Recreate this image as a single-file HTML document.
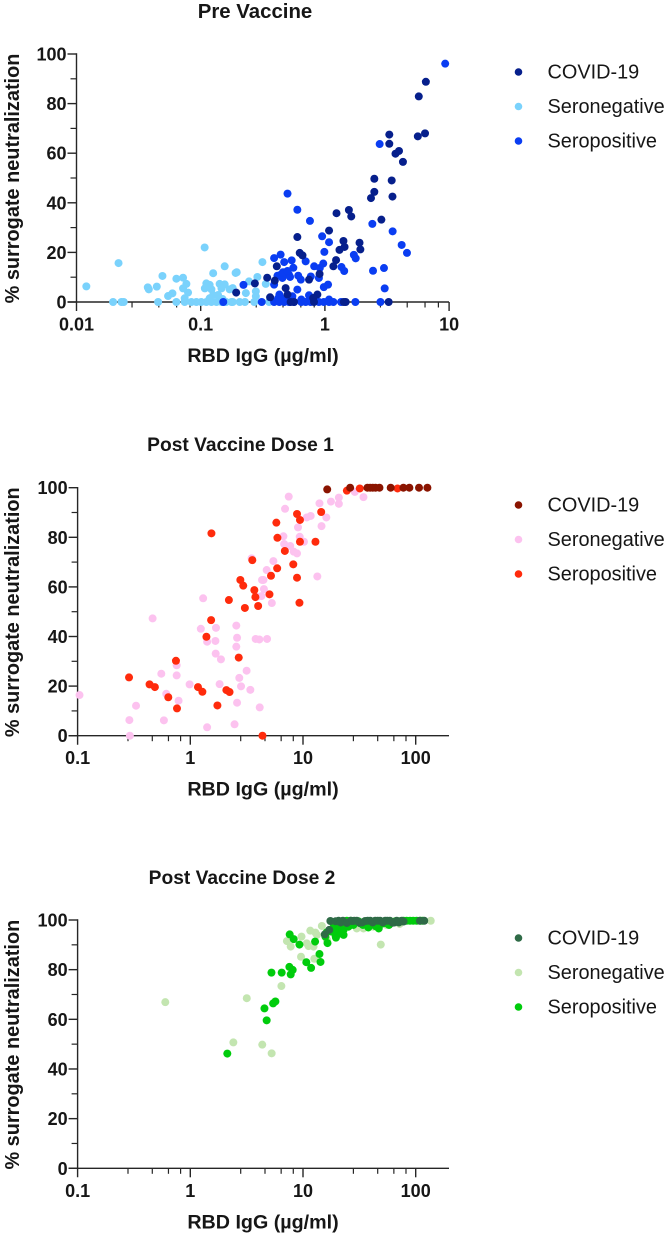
<!DOCTYPE html>
<html lang="en">
<head>
<meta charset="utf-8">
<title>Surrogate neutralization vs RBD IgG</title>
<style>
html,body{margin:0;padding:0;background:#fff;width:666px;height:1239px;overflow:hidden}
svg{display:block;filter:blur(0.35px)}
text{font-family:"Liberation Sans",sans-serif;fill:#161616}
.b{font-weight:bold}
</style>
</head>
<body>
<svg id="fig" xmlns="http://www.w3.org/2000/svg" width="666" height="1239" viewBox="0 0 666 1239"></svg>
<script>
// shared axis values
const yTicks = [0, 20, 40, 60, 80, 100];
const yMinorTicks = [10, 30, 50, 70, 90];
const minorMultipliers = [2.8, 4.6, 6.4, 8.2];
const preXTicks = [0.01, 0.1, 1, 10];
const postXTicks = [0.1, 1, 10, 100];
const legendLabels = ["COVID-19", "Seronegative", "Seropositive"];

// Pre Vaccine
const preCovidX = [6.5,5.7,6.4,5.6,3.3,3.3,3.7,3.95,4.25,2.5,3.45,2.5,2.35,3.5,2.85,1.24,1.56,1.63,1.08,0.6,1.41,1.9,1.44,1.31,1.93,0.627,0.66,1.23,1.17,0.41,0.343,0.273,0.395,0.745,0.906,0.483,0.193,0.362,0.5,0.87,0.805,0.564,0.53,0.817,1.47,1.42,3.26];
const preCovidY = [88.8,82.9,68,66.8,67.5,63.8,59.8,60.9,56.5,49.7,49,44.4,41.9,42.5,33.2,35.8,37.1,34.5,28.8,26.2,24.6,23.9,22.2,21,21.2,19.8,18.8,16.9,14.4,14.4,9.8,7.5,8.6,9,11.3,5.6,3.8,1.9,3,3,1.6,0,0,0,0,0,0];
const preNegX = [0.012,0.0218,0.1076,0.0492,0.0197,0.023,0.024,0.0375,0.0382,0.0443,0.0454,0.0546,0.0592,0.0637,0.0637,0.0721,0.0767,0.0721,0.0791,0.0743,0.0743,0.0841,0.0923,0.101,0.111,0.122,0.134,0.147,0.177,0.206,0.126,0.156,0.191,0.111,0.118,0.142,0.156,0.108,0.122,0.147,0.171,0.126,0.138,0.118,0.195,0.314,0.286,0.245,0.334,0.278,0.231,0.181,0.227,0.181,0.278,0.356,0.15,0.16,0.27];
const preNegY = [6.3,15.7,22,10.5,0,0,0,5.9,5.1,6.2,0,2.4,3.5,0,9.4,9.8,7.3,5.5,3.8,1.5,0,0,0,0,0,0,0,0,0,0,11.6,14.4,11.7,7.5,6.9,7.3,7.1,5.5,5.1,5.5,5.1,2.8,2.8,1.5,12,16.1,10.1,8.3,7.3,4.3,3.6,5.6,0,0,2.3,0,1.2,0,0];
const prePosX = [9.3,2.76,0.5,0.6,0.758,2.41,0.95,1.08,3.51,4.15,4.58,0.99,1.71,1.77,0.39,0.44,0.54,0.47,0.7,0.557,0.82,0.97,0.91,1.36,1.43,2.44,2.99,0.415,0.44,0.483,0.514,0.455,0.524,0.61,0.64,0.77,0.895,0.39,0.221,0.6,0.98,1.06,3.03,0.43,0.745,0.646,1.08,0.547,0.152,0.31,0.39,0.43,0.47,0.514,0.564,0.646,0.7,0.767,0.895,0.98,1.08,1.17,1.35,1.76,2.8,0.46,0.5,0.42,0.47,0.53];
const prePosY = [96.1,63.7,43.7,37.2,32.7,31.5,26.5,24.1,28.5,23,19.8,20.2,19,17.6,17.7,19.1,16.8,16.1,16.4,13.8,14.4,15.5,13.7,14.1,12.5,12.6,13.7,10.6,11,11.3,11,9.7,10.1,10.6,9,10.3,9.7,7,6.9,5,6,7,5.5,3,2.7,1,1,2.3,0,0,0,0,0,0,0,0,0,0,0,0,0,0,0,0,0,12,12.5,1.5,1.2,1.5];

// Post Vaccine Dose 1
const dose1CovidX = [16.4,26.2,37.3,39.4,41.6,44,47.7,60,77.8,87.9,107,127];
const dose1CovidY = [99.3,100,100,100,100,100,100,100,100,100,100,100];
const dose1NegX = [0.104,1.3,0.463,3.5,1.24,1.69,2.56,2.6,1.67,1.41,2.56,1.68,1.87,0.757,0.757,0.553,3.16,2.72,0.986,1.82,2.82,3.41,0.612,0.787,0.33,2.6,0.288,0.583,1.41,2.47,0.291,4.13,3.8,4.1,4.33,3.9,4.8,7.47,6.93,20.8,17.7,20.8,14,28.8,34.4,16.1,10.8,11.7,9.03,14.6,6.7,9.35,10.2,6.8,7.7,8.27,8.85,5.46,4.76,4.46,13.4,4.5,4.28,5.29];
const dose1NegY = [16.4,55.4,47.3,71.5,43.1,43.5,44.4,39.5,38.2,37.9,35.9,33.1,30.8,28.4,24.3,25,26.2,23.3,20.7,20.8,19.9,18.5,16.9,14.1,12.1,13.3,6.3,6.2,3.4,4.6,0,11.4,39,38.8,62.8,56,39,96.4,91.5,96,94.4,93.5,93.7,98.3,96.2,88,88,88.6,84,84.5,80.4,80.2,78.2,77.3,76.5,74.2,73.5,70.4,66.8,62.8,64.2,59.1,56.3,53.5];
const dose1PosX = [1.54,3.55,2.78,2.95,3.7,3.78,2.2,3.05,4,1.53,1.39,2.69,0.746,0.286,0.435,0.485,1.17,1.28,2.09,2.23,0.638,1.74,0.762,4.37,5.04,8.85,9.4,5.8,14.5,5.93,9.4,12.9,6.9,8.2,5.9,5.2,8.85,9.3,24.5,31.9,69];
const dose1PosY = [81.6,70.8,62.8,60.5,58.7,55.9,54.7,51.5,52.3,46.6,39.9,31.5,30.2,23.5,20.7,19.6,19.6,17.7,18.4,17.6,15.5,12.2,11,0,57,89.4,87,85.9,90.2,79.8,78.2,78.2,74.5,69.1,67.5,64.5,63.7,53.6,98.8,99.7,99.7];

// Post Vaccine Dose 2
const dose2CovidX = [15.6,17.1,17.5,20.7,22.6,26.6,28.5,31.7,35.6,39.5,43.7,48.3,53.6,62.5,67.9,75.2,109,119,19.5,21.6,24.5,27.5,30,33.5,37.5,41.5,46,51,56,59,65,71,78];
const dose2CovidY = [94.2,96,99.6,99.7,99.7,99.7,99.7,98.9,99.6,99.7,99.7,99.7,99.7,98.9,99.7,99.7,99.7,99.7,99.5,99,98.8,99.6,99.7,99,99.7,99,99.7,99,99.7,99.7,99,99,99.4];
const dose2NegX = [0.6,2.41,4.35,5.27,136,49,7.2,7.78,9.7,11.6,12.9,14.7,10.8,11.2,12.4,9.6,12.6,6.43,3.17,13.3,34.4,21,30,42,55,72,16.3];
const dose2NegY = [66.9,50.7,49.8,46.3,99.7,90.1,91.5,89.3,93.3,95.7,94.9,97.6,90.6,89.5,89.3,85.2,84.4,73.4,68.5,94,96.6,97.3,96.6,97.3,98,98.4,92];
const dose2PosX = [2.13,7.62,8.27,9.3,12.8,15.8,16.5,19.6,14,14.3,10.7,11.8,5.25,6.47,7.57,8.1,7.78,5.69,5.43,4.55,4.76,18,21.4,22.9,25.3,22.9,28,32,36.8,47,42,53.6,63.4,20,18.7,24.5,78,83,89,95,102,16.2,19,22,24,19.5,26.5,29,31,34,38,44,50,58,66,72,110,115];
const dose2PosY = [46.2,94.2,92.3,90.1,91.3,93.3,90.7,92.9,86.3,83.1,83,80.7,78.8,78.8,81.1,79.9,78.1,67.2,66.4,64.4,59.6,95.3,94.6,96,97.3,94,98,98.7,99.3,96.6,98.4,98.7,99,97.3,98.4,99.7,99.7,99.7,99.7,99.7,99.7,95,96,98,99,93.5,99.7,99.5,99.5,98,97,97.5,98.5,98,99.5,99.5,99.7,99.7];

const svgNS = "http://www.w3.org/2000/svg";
const fig = document.getElementById("fig");

function mk(tag, attrs, parent) {
  const el = document.createElementNS(svgNS, tag);
  for (const k in attrs) el.setAttribute(k, attrs[k]);
  parent.appendChild(el);
  return el;
}

function drawChart(c) {
  const g = mk("g", {}, fig);
  
  

  const xScale = v => c.x0 + (Math.log10(v) - Math.log10(c.xTicks[0])) * c.decade;
  const yScale = v => c.yBottom - v * (c.yBottom - c.yTop) / 100;
  const axisColor = "#262626";

  const title = mk("text", {x: c.titleX, y: c.titleY, "text-anchor": "middle", "font-size": c.titleSize, class: "b"}, g);
  title.textContent = c.title;
  
  

  const yTitle = mk("text", {transform: "translate(19," + ((c.yBottom + c.yTop) / 2 + 0.5) + ") rotate(-90)", "text-anchor": "middle", "font-size": 19.9, class: "b"}, g);
  yTitle.textContent = "% surrogate neutralization";
  
  

  const xTitle = mk("text", {x: 263, y: c.yBottom + 60, "text-anchor": "middle", "font-size": 19.7, class: "b"}, g);
  xTitle.textContent = "RBD IgG (µg/ml)";
  
  

  const yAxis = mk("line", {x1: c.x0, x2: c.x0, y1: c.yTop - 0.7, y2: c.yBottom + 9, stroke: axisColor, "stroke-width": 1.4}, g);
  
  
  const xAxis = mk("line", {x1: c.x0 - 9, x2: 449, y1: c.yBottom, y2: c.yBottom, stroke: axisColor, "stroke-width": 1.4}, g);
  
  

  yTicks.forEach(t => {
    const tick = mk("line", {x1: c.x0 - 9, x2: c.x0, y1: yScale(t), y2: yScale(t), stroke: axisColor, "stroke-width": 1.4}, g);
    
    
    const label = mk("text", {x: c.x0 - 10, y: yScale(t) + 6.5, "text-anchor": "end", "font-size": 18, class: "b"}, g);
    label.textContent = String(t);
    
    
  });
  yMinorTicks.forEach(t => {
    const tick = mk("line", {x1: c.x0 - 6, x2: c.x0, y1: yScale(t), y2: yScale(t), stroke: axisColor, "stroke-width": 1.2}, g);
    
    
  });
  c.xTicks.forEach(t => {
    const px = xScale(t);
    if (t !== c.xTicks[0]) {
      const tick = mk("line", {x1: px, x2: px, y1: c.yBottom, y2: c.yBottom + 9, stroke: axisColor, "stroke-width": 1.4}, g);
      
      
    }
    const label = mk("text", {x: px, y: c.yBottom + 28.5, "text-anchor": "middle", "font-size": 18, class: "b"}, g);
    label.textContent = String(t);
    
    
    minorMultipliers.forEach(m => {
      const mx = xScale(t * m);
      if (mx > 449) return;
      const minor = mk("line", {x1: mx, x2: mx, y1: c.yBottom, y2: c.yBottom + 5.5, stroke: axisColor, "stroke-width": 1.2}, g);
      
      
    });
  });

  // draw order: seronegative, seropositive, COVID-19 on top
  c.series.forEach(s => {
    const sg = mk("g", {fill: s.color}, g);
    
    
    s.xs.forEach((v, i) => {
      const dot = mk("circle", {cx: xScale(v), cy: yScale(s.ys[i]), r: 4}, sg);
      
      
    });
  });

  legendLabels.forEach((label, i) => {
    const s = c.series.find(q => q.label === label);
    const ly = c.legendY + i * 34.5;
    const entry = mk("g", {}, g);
    
    
    mk("circle", {cx: 518.5, cy: ly, r: 3.8, fill: s.color}, entry);
    const t = mk("text", {x: 547.5, y: ly + 6.3, "font-size": 19.9}, entry);
    t.textContent = label;
  });
}

drawChart({
  id: "pre-vaccine", title: "Pre Vaccine", titleX: 255, titleY: 18, titleSize: 20.4,
  x0: 76.5, decade: 124.2, yTop: 54, yBottom: 302, xTicks: preXTicks, legendY: 72,
  series: [
    {key: "seronegative", label: "Seronegative", color: "#7ad2fc", xs: preNegX, ys: preNegY},
    {key: "seropositive", label: "Seropositive", color: "#0a3df2", xs: prePosX, ys: prePosY},
    {key: "covid-19", label: "COVID-19", color: "#061f8c", xs: preCovidX, ys: preCovidY}
  ]
});
drawChart({
  id: "post-vaccine-dose-1", title: "Post Vaccine Dose 1", titleX: 240.5, titleY: 451, titleSize: 19.2,
  x0: 77.6, decade: 112.7, yTop: 487.7, yBottom: 735.7, xTicks: postXTicks, legendY: 505,
  series: [
    {key: "seronegative", label: "Seronegative", color: "#fcc2ef", xs: dose1NegX, ys: dose1NegY},
    {key: "seropositive", label: "Seropositive", color: "#ff2b0c", xs: dose1PosX, ys: dose1PosY},
    {key: "covid-19", label: "COVID-19", color: "#8a1400", xs: dose1CovidX, ys: dose1CovidY}
  ]
});
drawChart({
  id: "post-vaccine-dose-2", title: "Post Vaccine Dose 2", titleX: 242, titleY: 884, titleSize: 19.2,
  x0: 77.6, decade: 112.7, yTop: 920, yBottom: 1168.3, xTicks: postXTicks, legendY: 938,
  series: [
    {key: "seronegative", label: "Seronegative", color: "#c3e5b0", xs: dose2NegX, ys: dose2NegY},
    {key: "seropositive", label: "Seropositive", color: "#00cc0c", xs: dose2PosX, ys: dose2PosY},
    {key: "covid-19", label: "COVID-19", color: "#2f6b47", xs: dose2CovidX, ys: dose2CovidY}
  ]
});
</script>
</body>
</html>
